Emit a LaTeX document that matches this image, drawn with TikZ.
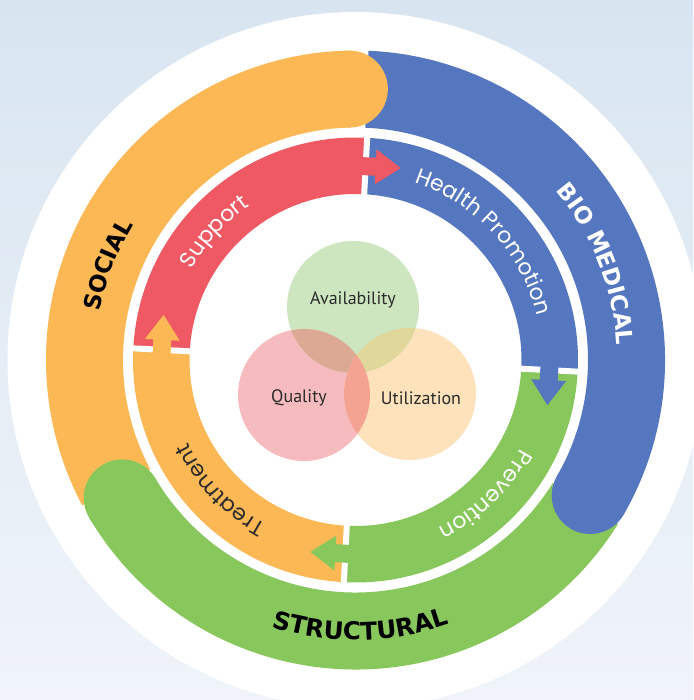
\documentclass[tikz,border=0pt]{standalone}
\usepackage{fontspec}
\setmainfont{Poppins}
\newfontfamily\heavyfont{DejaVu Sans}
\newfontfamily\vennfont{PT Sans}
\usetikzlibrary{decorations.text}

\definecolor{socialC}{HTML}{FCB855}
\definecolor{bioC}{HTML}{5577BF}
\definecolor{structC}{HTML}{88C75B}
\definecolor{supportC}{HTML}{EF5963}
\definecolor{availC}{HTML}{CDE6BF}
\definecolor{qualC}{HTML}{F6BBBF}
\definecolor{utilC}{HTML}{FDE2BB}
\definecolor{aqC}{HTML}{DBA994}
\definecolor{auC}{HTML}{E0D89B}
\definecolor{quC}{HTML}{F4A292}
\definecolor{bgTop}{HTML}{D8E5F0}
\definecolor{bgBot}{HTML}{F0F4FA}
\definecolor{inkC}{HTML}{2B2B2B}

\newcommand{\ringtext}{\fontsize{22}{22}\selectfont}
\newcommand{\bandtext}{\heavyfont\bfseries\fontsize{23}{23}\selectfont}
\newcommand{\widebandtext}{\heavyfont\bfseries\fontsize{24.5}{24.5}\selectfont}

\tikzset{
  vennlabel/.style={font=\vennfont\fontsize{18}{18}\selectfont, text=inkC, inner sep=0pt},
  divider/.style={white, line width=6pt},
  arclabel/.style={decorate, decoration={text along path, text align=center, text color=#1}},
}

\begin{document}
\begin{tikzpicture}
\useasboundingbox (0,0) rectangle (693pt,700pt);

% backdrop and white disc
\shade[top color=bgTop, bottom color=bgBot] (0,0) rectangle (693pt,700pt);
\coordinate (C) at (355.5pt,340pt);
\fill[white] (C) circle[radius=348pt];

% outer ring: three bands, then their rounded heads on top
\begin{scope}[shift={(C)}]
  \fill[bioC] (-30:309.5pt) arc[start angle=-30, end angle=87.6, radius=309.5pt]
     -- (87.6:232.5pt) arc[start angle=87.6, end angle=-30, radius=232.5pt] -- cycle;
  \fill[structC] (210.6:309.5pt) arc[start angle=210.6, end angle=328, radius=309.5pt]
     -- (328:232.5pt) arc[start angle=328, end angle=210.6, radius=232.5pt] -- cycle;
  \fill[socialC] (91.3:309.5pt) arc[start angle=91.3, end angle=208, radius=309.5pt]
     -- (208:232.5pt) arc[start angle=208, end angle=91.3, radius=232.5pt] -- cycle;
  \fill[socialC] (91.3:271pt) circle[radius=38.5pt];
  \fill[structC] (210.6:271pt) circle[radius=38.5pt];
  \fill[bioC] (-30:271pt) circle[radius=38.5pt];

  % band titles
  \path[arclabel=black, decoration={text={|\bandtext|SOCIAL}}]
    (189:260pt) arc[start angle=189, end angle=129, radius=260pt];
  \path[arclabel=white, decoration={text={|\bandtext|BIO MEDICAL}}]
    (61.7:262pt) arc[start angle=61.7, end angle=-18.3, radius=262pt];
  \path[arclabel=black, decoration={text={|\widebandtext|STRUCTURAL}}]
    (231:280pt) arc[start angle=231, end angle=311, radius=280pt];
\end{scope}

% inner cycle of four stages
\begin{scope}[shift={(C)}, rotate=-1.5]
  \fill[supportC] (88.5:222.5pt) arc[start angle=88.5, end angle=178.5, radius=222.5pt]
     -- (178.5:166pt) arc[start angle=178.5, end angle=88.5, radius=166pt] -- cycle;
  \fill[bioC] (-1.5:222.5pt) arc[start angle=-1.5, end angle=88.5, radius=222.5pt]
     -- (88.5:166pt) arc[start angle=88.5, end angle=-1.5, radius=166pt] -- cycle;
  \fill[structC] (-91.5:222.5pt) arc[start angle=-91.5, end angle=-1.5, radius=222.5pt]
     -- (-1.5:166pt) arc[start angle=-1.5, end angle=-91.5, radius=166pt] -- cycle;
  \fill[socialC] (178.5:222.5pt) arc[start angle=178.5, end angle=268.5, radius=222.5pt]
     -- (268.5:166pt) arc[start angle=268.5, end angle=178.5, radius=166pt] -- cycle;

  \foreach \a in {0,90,180,270}
    \draw[divider] (\a-1.5:160pt) -- (\a-1.5:230pt);

  % arrows carrying each stage into the next
  \foreach \a/\col in {88.5/supportC, -1.5/bioC, 268.5/structC, 178.5/socialC}
    \fill[\col, shift={(\a:194pt)}, rotate=\a-90]
      (-10pt,9pt) -- (10pt,9pt) -- (10pt,17.5pt) -- (35pt,0pt)
      -- (10pt,-17.5pt) -- (10pt,-9pt) -- (-10pt,-9pt) -- cycle;
\end{scope}

\begin{scope}[shift={(C)}]
  \path[arclabel=white, decoration={text={|\ringtext|Support}}]
    (187.8:187pt) arc[start angle=187.8, end angle=87.8, radius=187pt];
  \path[arclabel=white, decoration={text={|\ringtext|Health Promotion}}]
    (92.6:187pt) arc[start angle=92.6, end angle=-7.4, radius=187pt];
  \path[arclabel=white, decoration={text={|\ringtext|Prevention}}]
    (4:187pt) arc[start angle=4, end angle=-96, radius=187pt];
  \path[arclabel=inkC, decoration={text={|\ringtext|Treatment}}]
    (273.8:187pt) arc[start angle=273.8, end angle=173.8, radius=187pt];
\end{scope}

% centre: three overlapping circles
\coordinate (A) at (353pt,393pt);
\coordinate (Q) at (304pt,305pt);
\coordinate (U) at (410pt,306pt);
\fill[qualC] (Q) circle[radius=66pt];
\fill[utilC] (U) circle[radius=66pt];
\fill[availC] (A) circle[radius=66pt];
\begin{scope}
  \clip (A) circle[radius=66pt];
  \fill[aqC] (Q) circle[radius=66pt];
  \fill[auC] (U) circle[radius=66pt];
\end{scope}
\begin{scope}
  \clip (Q) circle[radius=66pt];
  \fill[quC] (U) circle[radius=66pt];
\end{scope}
\node[vennlabel] (avail) at (353pt,400pt) {Availability};
\node[vennlabel] (qual) at (299pt,302pt) {Quality};
\node[vennlabel] (util) at (421pt,302pt) {Utilization};
\end{tikzpicture}
\end{document}
